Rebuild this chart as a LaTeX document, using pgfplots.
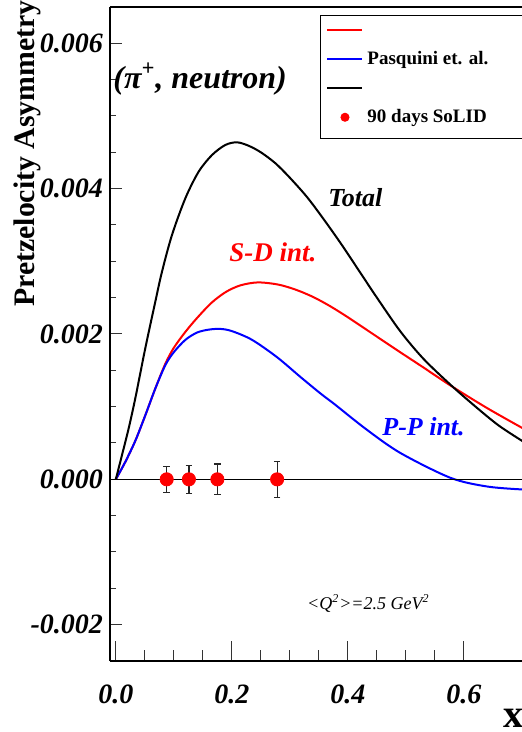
\documentclass[border=0pt]{standalone}
\usepackage{fontspec}
\setmainfont{Liberation Serif}
\usepackage{pgfplots}
\pgfplotsset{compat=1.18}

\begin{document}
\begin{tikzpicture}
\begin{axis}[
  scale only axis,
  width=206pt, height=327pt,
  xmin=-0.01, xmax=0.70,
  ymin=-0.0025, ymax=0.0065,
  axis x line*=box, axis y line*=left,
  axis line style={black, line width=0.6pt},
  xtick={0,0.2,0.4,0.6},
  ytick={-0.002,0,0.002,0.004,0.006},
  minor x tick num=3, minor y tick num=3,
  xtick pos=bottom, ytick pos=left,
  tick align=inside,
  xtick style={black!80, line width=0.5pt, /pgfplots/major tick length=10pt, /pgfplots/minor tick length=5.5pt},
  ytick style={black!80, line width=0.5pt, /pgfplots/major tick length=6pt, /pgfplots/minor tick length=3pt},
  scaled y ticks=false, scaled x ticks=false,
  /pgf/number format/assume math mode=true,
  tick label style={font=\fontsize{14}{14}\selectfont\bfseries\itshape},
  yticklabel style={/pgf/number format/.cd, fixed, fixed zerofill, precision=3},
  xticklabel style={yshift=-8.5pt, /pgf/number format/.cd, fixed, fixed zerofill, precision=1},
  legend cell align=left,
  legend style={at={(rel axis cs:0.5097,0.9878)}, anchor=north west,
    draw=black, line width=0.5pt, fill=white,
    font=\fontsize{9.5}{10}\selectfont\bfseries,
    inner xsep=3pt, inner ysep=4.5pt, row sep=5.75pt},
  legend image code/.code={\draw[#1] (0pt,0pt) -- (17.5pt,0pt);},
]
\coordinate (ll) at (rel axis cs:0,0);
\coordinate (tl) at (rel axis cs:0,1);
\coordinate (lr) at (rel axis cs:1,0);
\coordinate (ur) at (rel axis cs:1,1);

% S-D interference
\addplot[red, line width=1pt, smooth] coordinates {
 (0,0) (0.0164,0.00024) (0.0336,0.00053) (0.0508,0.00088) (0.0681,0.00125)
 (0.0853,0.00159) (0.10,0.00181) (0.12,0.00203) (0.14,0.00222) (0.165,0.00243)
 (0.19,0.00258) (0.215,0.00267) (0.245,0.00271) (0.28,0.00268)
 (0.31,0.00261) (0.34,0.00251) (0.37,0.00238) (0.40,0.00223) (0.43,0.00207)
 (0.46,0.00191) (0.49,0.00175) (0.53,0.00154) (0.577,0.00129)
 (0.64,0.00098) (0.702,0.00070)};
\addlegendentry{\mbox{}}

% P-P interference
\addplot[blue, line width=1pt, smooth] coordinates {
 (0,0) (0.0164,0.00024) (0.0336,0.00053) (0.0508,0.00088) (0.0681,0.00125)
 (0.0853,0.00157) (0.10,0.00175) (0.12,0.00192) (0.14,0.00202) (0.16,0.00206)
 (0.18,0.00207) (0.20,0.00204) (0.2347,0.00192) (0.278,0.00168) (0.318,0.00141)
 (0.353,0.00118) (0.376,0.00104) (0.433,0.00068) (0.491,0.00036)
 (0.577,0.00002) (0.641,-0.0001) (0.702,-0.00014)};
\addlegendentry{Pasquini et. al.\hspace*{12pt}}

% total
\addplot[black, line width=1pt, smooth] coordinates {
 (0,0) (0.0107,0.000335) (0.0222,0.000702) (0.0336,0.001115) (0.0508,0.001803)
 (0.0681,0.002445) (0.0796,0.002858) (0.0968,0.003362) (0.1198,0.003867)
 (0.1428,0.004234) (0.1658,0.004463) (0.1887,0.004601) (0.2088,0.004638)
 (0.229,0.00459) (0.25,0.00450) (0.275,0.00435) (0.30,0.00415) (0.33,0.00388)
 (0.36,0.00356) (0.39,0.00322) (0.42,0.00286) (0.45,0.00250) (0.49,0.00204)
 (0.53,0.00166) (0.577,0.00130) (0.62,0.00100) (0.66,0.00074) (0.702,0.00052)};
\addlegendentry{\mbox{}}

\addplot[black, line width=0.6pt, forget plot] coordinates {(-0.01,0) (0.70,0)};

% projected SoLID points
\addplot[only marks, mark=*, mark size=3.3pt, color=red,
  legend image code/.code={\fill[red] (8.75pt,0pt) circle (2pt);},
  error bars/.cd, y dir=both, y explicit,
  error bar style={black!85, line width=0.6pt},
  error mark options={black!85, mark size=1.6pt, line width=0.6pt, rotate=90}]
  coordinates {
 (0.0877,0) +- (0,0.00018)
 (0.126,0) +- (0,0.00019)
 (0.175,0) +- (0,0.00021)
 (0.278,0) +- (0,0.00025)};
\addlegendentry{90 days SoLID}

\node[anchor=base west, font=\fontsize{16}{16}\selectfont\bfseries\itshape, inner sep=0pt]
  at (axis cs:-0.0048,0.005385) {(π\textsuperscript{+}, neutron)};
\node[anchor=base west, font=\fontsize{13}{13}\selectfont\bfseries\itshape, inner sep=0pt]
  at (axis cs:0.3657,0.003761) {Total};
\node[anchor=base west, font=\fontsize{13.5}{13.5}\selectfont\bfseries\itshape, inner sep=0pt, red]
  at (axis cs:0.195,0.002991) {S-D int.};
\node[anchor=base west, font=\fontsize{13}{13}\selectfont\bfseries\itshape, inner sep=0pt, blue]
  at (axis cs:0.4587,0.00061) {P-P int.};
\node[anchor=base east, font=\fontsize{9}{9}\selectfont\itshape, inner sep=0pt]
  at (axis cs:0.5414,-0.001798) {<Q\textsuperscript{2}>=2.5 GeV\textsuperscript{2}};
\end{axis}

\node[rotate=90, anchor=north east, inner sep=0pt, font=\fontsize{14.9}{14.9}\selectfont\bfseries]
  at ([xshift=-48.5pt,yshift=3.5pt]tl) {Pretzelocity Asymmetry};
\node[anchor=base west, inner sep=0pt, font=\fontsize{20}{20}\selectfont\bfseries]
  at ([xshift=-9.5pt,yshift=-33pt]lr) {x};

\pgfresetboundingbox
\path ([xshift=-55pt,yshift=-35.5pt]ll) rectangle ([yshift=3.5pt]ur);
\end{tikzpicture}
\end{document}
